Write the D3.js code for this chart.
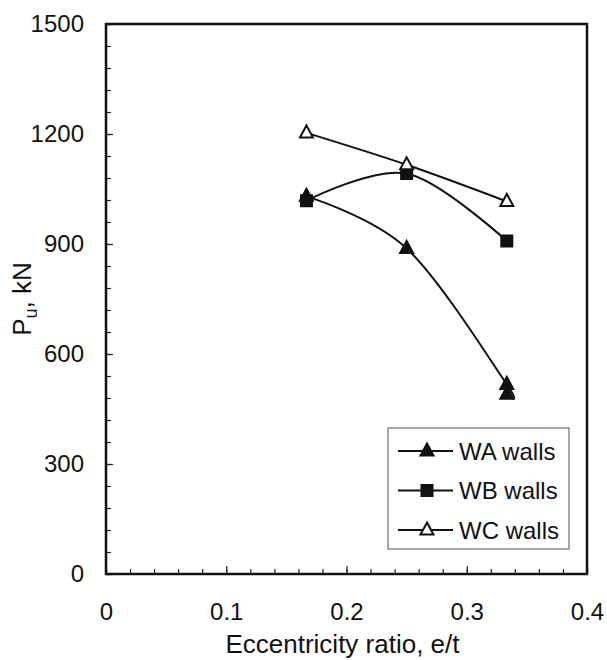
<!DOCTYPE html>
<html>
<head>
<meta charset="utf-8">
<script src="https://cdn.jsdelivr.net/npm/d3@7"></script>
<style>
  body { margin: 0; background: #fff; }
  svg text { font-family: 'Liberation Sans', Arial, sans-serif; fill: #111; }
</style>
</head>
<body>
<div id="chart"></div>
<script>
'use strict';

// values
var waRatios = [0.1667, 0.25, 0.3333, 0.3333];
var waLoads = [1030, 888, 517, 490];
var wbRatios = [0.1667, 0.25, 0.3333];
var wbLoads = [1018, 1092, 908];
var wcRatios = [0.1667, 0.25, 0.3333];
var wcLoads = [1203, 1116, 1016];

var seriesNames = ['WA walls', 'WB walls', 'WC walls'];
var xTicks = [0, 0.1, 0.2, 0.3, 0.4];
var yTicks = [0, 300, 600, 900, 1200, 1500];
var xTickLabels = ['0', '0.1', '0.2', '0.3', '0.4'];
var yTickLabels = ['0', '300', '600', '900', '1200', '1500'];

(function () {

  var width = 607,
      height = 660;
  var margin = {top: 24, right: 20, bottom: 86, left: 106};
  var plotW = width - margin.left - margin.right,
      plotH = height - margin.top - margin.bottom;

  var svg = d3.select('#chart').append('svg')
      .attr('width', width)
      .attr('height', height);

  var g = svg.append('g')
      .attr('transform', 'translate(' + margin.left + ',' + margin.top + ')');

  var x = d3.scaleLinear().domain([0, 0.4]).range([0, plotW]);
  var y = d3.scaleLinear().domain([0, 1500]).range([plotH, 0]);

  // minor ticks every 0.02 / 60 kN, pointing inwards
  g.append('g')
      .attr('class', 'x minor')
      .attr('transform', 'translate(0,' + plotH + ')')
      .call(d3.axisBottom(x).tickValues(d3.range(0, 0.4001, 0.02)).tickSize(-5).tickFormat(''));
  g.append('g')
      .attr('class', 'y minor')
      .call(d3.axisLeft(y).tickValues(d3.range(0, 1501, 60)).tickSize(-5).tickFormat(''));

  g.append('g')
      .attr('class', 'x axis')
      .attr('transform', 'translate(0,' + plotH + ')')
      .call(d3.axisBottom(x).tickValues(xTicks).tickSize(-8).tickPadding(29)
        .tickFormat(function(d, i) { return xTickLabels[i]; }));
  g.append('g')
      .attr('class', 'y axis')
      .call(d3.axisLeft(y).tickValues(yTicks).tickSize(-7).tickPadding(22)
        .tickFormat(function(d, i) { return yTickLabels[i]; }));

  g.selectAll('.domain').remove();
  g.selectAll('.tick line').attr('stroke', '#222').attr('stroke-width', 1.2);
  g.selectAll('.axis text').style('font-size', '24px').attr('fill', '#111');

  // frame
  g.append('rect')
      .attr('width', plotW)
      .attr('height', plotH)
      .attr('fill', 'none')
      .attr('stroke', '#111')
      .attr('stroke-width', 2.5);

  // axis titles
  svg.append('text')
      .attr('x', margin.left + plotW / 2 - 4)
      .attr('y', 653)
      .attr('text-anchor', 'middle')
      .style('font-size', '26px')
      .text('Eccentricity ratio, e/t');

  var yTitle = svg.append('text')
      .attr('transform', 'translate(31,' + (margin.top + plotH / 2) + ') rotate(-90)')
      .attr('text-anchor', 'middle')
      .style('font-size', '26px');
  yTitle.append('tspan').text('P');
  yTitle.append('tspan').attr('dy', 6).style('font-size', '18px').text('u');
  yTitle.append('tspan').attr('dy', -6).text(', kN');

  var marker = function (type) {
    if (type === 'square') {
      return 'M-5.5,-5.5H5.5V5.5H-5.5Z';
    }
    return 'M0,-7.5L6.5,4.5L-6.5,4.5Z';
  };

  var series = [
    {name: seriesNames[0], xs: waRatios, ys: waLoads, shape: 'triangle', fill: '#111'},
    {name: seriesNames[1], xs: wbRatios, ys: wbLoads, shape: 'square', fill: '#111'},
    {name: seriesNames[2], xs: wcRatios, ys: wcLoads, shape: 'triangle', fill: '#fff'}
  ];

  // Excel style smoothed lines
  var line = d3.line()
      .x(function(d) { return x(d[0]); })
      .y(function(d) { return y(d[1]); })
      .curve(d3.curveCardinal.tension(0));

  series.forEach(function (s) {
    var pts = s.xs.map(function(v, i) { return [v, s.ys[i]]; });
    g.append('path')
        .datum(pts)
        .attr('d', line)
        .attr('fill', 'none')
        .attr('stroke', '#111')
        .attr('stroke-width', 2);
    s.pts = pts;
  });

  series.forEach(function (s) {
    g.selectAll(null)
        .data(s.pts)
        .enter()
        .append('path')
        .attr('d', marker(s.shape))
        .attr('transform', function(d) { return 'translate(' + x(d[0]) + ',' + y(d[1]) + ')'; })
        .attr('fill', s.fill)
        .attr('stroke', '#111')
        .attr('stroke-width', 2)
        .attr('stroke-linejoin', 'miter');
  });

  // legend
  var legend = svg.append('g').attr('transform', 'translate(388,428)');
  legend.append('rect')
      .attr('width', 181)
      .attr('height', 121)
      .attr('fill', '#fff')
      .attr('stroke', '#555')
      .attr('stroke-width', 1);

  var rows = legend.selectAll('.row')
      .data(series)
      .enter()
      .append('g')
      .attr('class', 'row')
      .attr('transform', function(d, i) { return 'translate(0,' + (23 + i * 39.5) + ')'; });

  rows.append('line')
      .attr('x1', 10)
      .attr('x2', 65)
      .attr('stroke', '#111')
      .attr('stroke-width', 2);
  rows.append('path')
      .attr('d', function(d) { return marker(d.shape); })
      .attr('transform', 'translate(39,0)')
      .attr('fill', function(d) { return d.fill; })
      .attr('stroke', '#111')
      .attr('stroke-width', 2);
  rows.append('text')
      .attr('x', 71)
      .attr('y', 8.5)
      .style('font-size', '24px')
      .text(function(d) { return d.name; });

})();
</script>
</body>
</html>
